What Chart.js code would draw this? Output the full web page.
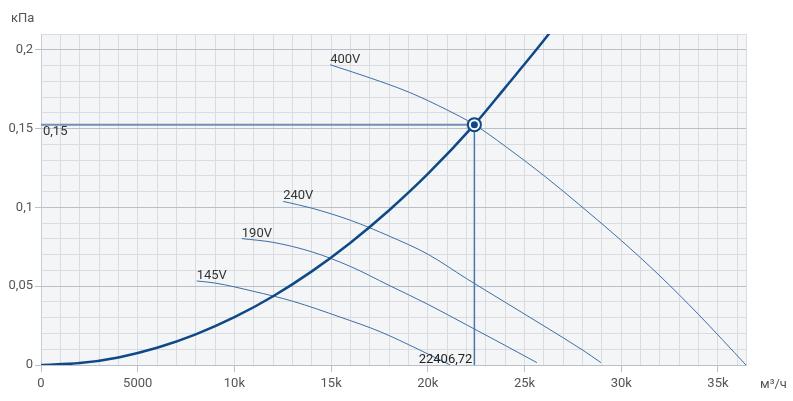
<!DOCTYPE html>
<html>
<head>
<meta charset="utf-8">
<script src="https://cdn.jsdelivr.net/npm/chart.js@4"></script>
<style>
  html, body { margin: 0; padding: 0; background: #fff; }
  #wrap { width: 793px; height: 401px; position: relative; }
</style>
</head>
<body>
<div id="wrap"><canvas id="graph"></canvas></div>
<script>
// axis limits
var xMax = 36450;
var yMax = 0.21;
var xStep = 1000;

// system curve (network resistance)
var systemX = [0, 2000, 4000, 6000, 8000, 10000, 12000, 14000, 16000, 18000, 20000, 22406.72, 24000, 26000, 27000];
var systemY = [0, 0.0012, 0.0048, 0.0109, 0.0194, 0.0303, 0.0436, 0.0594, 0.0776, 0.0982, 0.1212, 0.1525, 0.176, 0.206, 0.222];

// fan curves
var fanNames = ['400V', '240V', '190V', '145V'];
var fan400X = [14950, 17000, 19000, 21000, 22407, 24000, 26000, 28000, 30000, 32000, 34000, 36450];
var fan400Y = [0.1905, 0.1822, 0.1732, 0.1618, 0.1525, 0.1388, 0.1202, 0.1, 0.079, 0.0565, 0.032, 0];
var fan240X = [12520, 14000, 16000, 18000, 20000, 22000, 24000, 26000, 28000, 28950];
var fan240Y = [0.1038, 0.0995, 0.0918, 0.0818, 0.0703, 0.0548, 0.0398, 0.0248, 0.0095, 0.0015];
var fan190X = [10380, 12000, 14000, 16000, 18000, 20000, 22000, 24000, 25640];
var fan190Y = [0.0802, 0.0778, 0.0718, 0.0625, 0.0505, 0.0385, 0.0255, 0.0124, 0.0015];
var fan145X = [8050, 9000, 11000, 13000, 15470, 17540, 19500, 21160];
var fan145Y = [0.0533, 0.052, 0.0467, 0.0405, 0.0304, 0.0211, 0.01, 0];

// operating point
var workX = 22406.72;
var workY = 0.1525;
var workLabelX = '22406,72';
var workLabelY = '0,15';

var yUnit = 'кПа';
var xUnit = 'м³/ч';

function pts(xs, ys) {
  var out = [];
  for (var i = 0; i < xs.length; i++) out.push({x: xs[i], y: ys[i]});
  return out;
}

var fanColor = '#3d6fa6';
var darkBlue = '#0f4886';

function fanSet(name, xs, ys) {
  return {
    label: name,
    data: pts(xs, ys),
    showLine: true,
    borderColor: fanColor,
    borderWidth: 1,
    pointRadius: 0,
    cubicInterpolationMode: 'monotone',
    order: 5,
    isFan: true
  };
}

var datasets = [
  {
    label: 'point',
    data: [{x: workX, y: workY}],
    pointRadius: 6.5,
    pointBorderWidth: 2,
    pointBorderColor: darkBlue,
    pointBackgroundColor: '#ffffff',
    order: 1
  },
  {
    label: 'pointInner',
    data: [{x: workX, y: workY}],
    pointRadius: 3.5,
    pointBorderWidth: 0,
    pointBackgroundColor: darkBlue,
    order: 0
  },
  {
    label: 'system',
    data: pts(systemX, systemY),
    showLine: true,
    borderColor: darkBlue,
    borderWidth: 2.5,
    pointRadius: 0,
    cubicInterpolationMode: 'monotone',
    order: 2
  },
  {
    label: 'hline',
    data: [{x: 0, y: workY}, {x: workX, y: workY}],
    showLine: true,
    borderColor: '#6f8fb6',
    borderWidth: 2,
    pointRadius: 0,
    order: 3
  },
  {
    label: 'vline',
    data: [{x: workX, y: workY}, {x: workX, y: 0}],
    showLine: true,
    borderColor: '#4a78ad',
    borderWidth: 1.5,
    pointRadius: 0,
    order: 3
  },
  fanSet(fanNames[0], fan400X, fan400Y),
  fanSet(fanNames[1], fan240X, fan240Y),
  fanSet(fanNames[2], fan190X, fan190Y),
  fanSet(fanNames[3], fan145X, fan145Y)
];

// plot background
var bgPlugin = {
  id: 'bg',
  beforeDraw: function (chart) {
    var a = chart.chartArea, c = chart.ctx;
    c.save();
    c.fillStyle = '#f4f5f7';
    c.fillRect(a.left, a.top, a.right - a.left, a.bottom - a.top);
    c.restore();
  }
};

// curve names, operating point values, axis units
var textPlugin = {
  id: 'texts',
  afterDatasetsDraw: function (chart) {
    var c = chart.ctx;
    var xs = chart.scales.x, ys = chart.scales.y;
    c.save();
    c.font = '13px Roboto';
    c.fillStyle = '#333';
    chart.data.datasets.forEach(function (ds) {
      if (!ds.isFan) return;
      var p = ds.data[0];
      c.textAlign = 'left';
      c.textBaseline = 'alphabetic';
      c.fillText(ds.label, xs.getPixelForValue(p.x), ys.getPixelForValue(p.y) - 2);
    });
    c.textAlign = 'left';
    c.fillText(workLabelY, xs.getPixelForValue(0) + 2, ys.getPixelForValue(workY) + 10);
    c.textAlign = 'right';
    c.fillStyle = '#222';
    c.fillText(workLabelX, xs.getPixelForValue(workX) - 2, ys.getPixelForValue(0) - 2);
    c.fillStyle = '#555';
    c.textAlign = 'left';
    c.fillText(yUnit, 11, 22);
    c.fillText(xUnit, 760, 388);
    c.restore();
  }
};

var majorColor = '#b8c0cc';
var minorColor = '#dadce0';

var config = {
  type: 'scatter',
  data: { datasets: datasets },
  options: {
    responsive: true,
    maintainAspectRatio: false,
    animation: false,
    layout: { padding: { top: 34, right: 47, left: 0, bottom: 0 } },
    plugins: { legend: { display: false }, tooltip: { enabled: false } },
    scales: {
      x: {
        type: 'linear',
        min: 0,
        max: xMax,
        afterFit: function (s) { s.height = 36; },
        afterBuildTicks: function (s) {
          var t = [];
          for (var v = 0; v <= xMax; v += xStep) t.push({value: v});
          t.push({value: xMax});
          s.ticks = t;
        },
        border: { color: majorColor, width: 1 },
        grid: {
          color: minorColor,
          lineWidth: 1,
          tickLength: 7,
          tickColor: function (ctx) {
            return ctx.tick && ctx.tick.value % 5000 === 0 ? majorColor : 'rgba(0,0,0,0)';
          }
        },
        ticks: {
          autoSkip: false,
          maxRotation: 0,
          padding: 4,
          color: '#555',
          font: { family: 'Roboto', size: 13 },
          callback: function (v) {
            if (v % 5000 !== 0) return '';
            if (v === 0) return '0';
            if (v < 10000) return String(v);
            return (v / 1000) + 'k';
          }
        }
      },
      y: {
        min: 0,
        max: yMax,
        afterFit: function (s) { s.width = 41; },
        border: { color: '#c9ced6', width: 1 },
        grid: {
          color: function (ctx) {
            return Math.round(ctx.tick.value * 100) % 5 === 0 ? majorColor : minorColor;
          },
          lineWidth: 1,
          tickLength: 6,
          tickColor: function (ctx) {
            return Math.round(ctx.tick.value * 100) % 5 === 0 ? majorColor : 'rgba(0,0,0,0)';
          }
        },
        ticks: {
          stepSize: 0.01,
          autoSkip: false,
          padding: 2,
          color: '#555',
          font: { family: 'Roboto', size: 13 },
          callback: function (v) {
            var h = Math.round(v * 100);
            if (h % 5 !== 0) return '';
            return String(h / 100).replace('.', ',');
          }
        }
      }
    }
  },
  plugins: [bgPlugin, textPlugin]
};

var myChart = new Chart(document.getElementById('graph'), config);
</script>
</body>
</html>
